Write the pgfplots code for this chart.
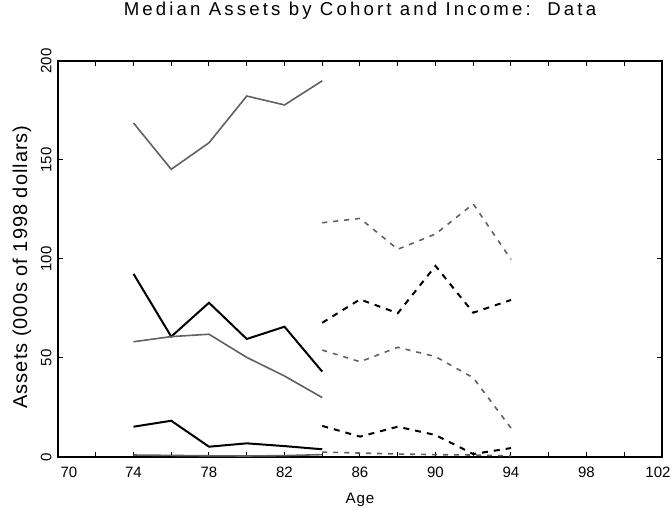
\documentclass[border=0pt]{standalone}
\usepackage{fontspec}
\setmainfont{Liberation Sans}
\usepackage{pgfplots}
\pgfplotsset{compat=1.18}
\definecolor{lg}{rgb}{0.38,0.38,0.38}
\begin{document}
\begin{tikzpicture}
\begin{axis}[name=ax, scale only axis, width=302pt, height=198pt,
 xmin=70, xmax=102, ymin=0, ymax=200,
 xtick={70,74,...,102}, minor xtick={72,76,...,100},
 xticklabels={\hspace{11pt}70,74,78,82,86,90,94,98,102\rule{4pt}{0pt}},
 ytick={0,50,...,200},
 major tick length=2.5pt, minor tick length=2.5pt,
 tick style={black, line width=0.5pt},
 axis line style={line width=0.7pt},
 /pgf/number format/assume math mode=true,
 ticklabel style={font=\fontsize{7.5}{9}\selectfont},
 xticklabel style={inner ysep=4.8pt},
 yticklabel style={rotate=90, anchor=south, inner xsep=0pt, inner ysep=3pt},
 title={Median Assets by Cohort and Income:\ \ Data},
 title style={font=\addfontfeature{LetterSpace=17}\fontsize{9.3}{11}\selectfont, at={(axis description cs:0.5,1.0851)}, anchor=base, yshift=0pt},
 xlabel={Age}, ylabel={Assets (000s of 1998 dollars)},
 xlabel style={font=\addfontfeature{LetterSpace=5}\fontsize{7.6}{9}\selectfont, at={(axis description cs:0.5,-0.1187)}, anchor=base},
 ylabel style={font=\addfontfeature{LetterSpace=5}\fontsize{10}{12}\selectfont, at={(axis description cs:-0.0596,0.48)}, anchor=center},
]
% solid series (ages 74-84)
\addplot[lg, line width=0.8pt] coordinates {(74,168.7) (76,145.3) (78,158.7) (80,182.3) (82,177.8) (84,190.0)};
\addplot[black, line width=1pt] coordinates {(74,92.5) (76,60.8) (78,77.9) (80,59.6) (82,65.8) (84,43.1)};
\addplot[lg, line width=0.8pt] coordinates {(74,58.2) (76,60.8) (78,62.0) (80,50.3) (82,40.9) (84,30.0)};
\addplot[black, line width=1pt] coordinates {(74,15.3) (76,18.3) (78,5.2) (80,6.9) (82,5.5) (84,3.9)};
\addplot[lg, line width=0.8pt] coordinates {(74,1.0) (76,0.8) (78,0.6) (80,0.5) (82,0.7) (84,1.2)};
% dashed series (ages 84-94)
\addplot[lg, line width=0.8pt, dash pattern=on 2.5pt off 3pt] coordinates {(84,118.3) (86,120.5) (88,104.9) (90,112.6) (92,127.8) (94,99.8)};
\addplot[black, line width=1pt, dash pattern=on 3pt off 3pt] coordinates {(84,67.8) (86,79.6) (88,72.6) (90,96.5) (92,72.9) (94,79.3)};
\addplot[lg, line width=0.8pt, dash pattern=on 2.5pt off 3pt] coordinates {(84,54.0) (86,48.1) (88,55.4) (90,50.7) (92,40.0) (94,14.6)};
\addplot[black, line width=1pt, dash pattern=on 3pt off 3pt] coordinates {(84,15.7) (86,10.3) (88,15.3) (90,11.1) (92,1.5) (94,4.5)};
\addplot[lg, line width=0.8pt, dash pattern=on 2.5pt off 3pt] coordinates {(84,2.5) (86,2.0) (88,1.5) (90,1.2) (92,1.0) (94,0.6)};
\end{axis}
\pgfresetboundingbox
\path ([shift={(-29pt,-25.5pt)}]ax.south west) rectangle ([shift={(4pt,30.5pt)}]ax.north east);
\end{tikzpicture}
\end{document}
